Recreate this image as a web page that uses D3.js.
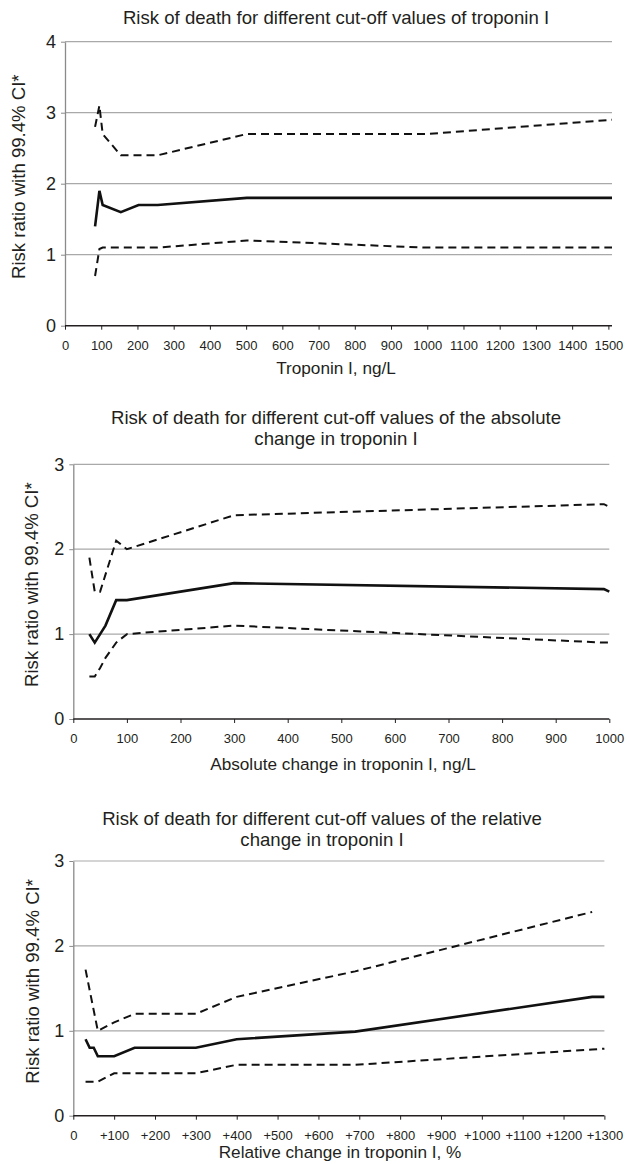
<!DOCTYPE html>
<html>
<head>
<meta charset="utf-8">
<script src="https://cdn.jsdelivr.net/npm/d3@7"></script>
<style>
    body { margin: 0; background: #fff; }
    text { font-family: "Liberation Sans", Arial, sans-serif; fill: #231f20; }
</style>
</head>
<body>
<div id="chart-area"></div>
<script>

// Panel 1: troponin I cut-off values
var tropX     = [83, 95, 104, 154, 203, 256, 502, 1000, 1510];
var tropRR    = [1.4, 1.9, 1.7, 1.6, 1.7, 1.7, 1.8, 1.8, 1.8];
var tropUpper = [2.8, 3.1, 2.7, 2.4, 2.4, 2.4, 2.7, 2.7, 2.9];
var tropLower = [0.7, 1.08, 1.1, 1.1, 1.1, 1.1, 1.2, 1.1, 1.1];
var tropTicksX = [0, 100, 200, 300, 400, 500, 600, 700, 800, 900, 1000, 1100, 1200, 1300, 1400, 1500];
var tropTicksY = [0, 1, 2, 3, 4];

// Panel 2: absolute change
var absX     = [30, 40, 50, 60, 80, 100, 300, 990, 1000];
var absRR    = [1.0, 0.9, 1.0, 1.1, 1.4, 1.4, 1.6, 1.53, 1.5];
var absUpper = [1.9, 1.5, 1.5, 1.7, 2.1, 2.0, 2.4, 2.53, 2.5];
var absLower = [0.5, 0.5, 0.6, 0.72, 0.9, 1.0, 1.1, 0.9, 0.9];
var absTicksX = [0, 100, 200, 300, 400, 500, 600, 700, 800, 900, 1000];
var absTicksY = [0, 1, 2, 3];

// Panel 3: relative change (%)
var relX     = [30, 40, 50, 60, 100, 150, 300, 400, 690, 1270, 1300];
var relRR    = [0.9, 0.8, 0.8, 0.7, 0.7, 0.8, 0.8, 0.9, 0.99, 1.4, 1.4];
var relUpper = [1.72, null, null, 1.0, 1.1, 1.2, 1.2, 1.4, 1.7, 2.4, null];
var relLower = [0.4, 0.4, 0.4, 0.4, 0.5, 0.5, 0.5, 0.6, 0.6, 0.78, 0.79];
var relTicksX = [0, 100, 200, 300, 400, 500, 600, 700, 800, 900, 1000, 1100, 1200, 1300];
var relTicksY = [0, 1, 2, 3];

var yLabel = "Risk ratio with 99.4% CI*";

var svg = d3.select("#chart-area").append("svg")
    .attr("width", 630)
    .attr("height", 1164);

svg.append("rect").attr("width", 630).attr("height", 1164).attr("fill", "#fff");

var panels = [
    {
        xs: tropX, rr: tropRR, upper: tropUpper, lower: tropLower,
        ticksX: tropTicksX, ticksY: tropTicksY, xMax: 1510, yMax: 4,
        left: 65, right: 612, top: 41.7, bottom: 325.7,
        title: ["Risk of death for different cut-off values of troponin I"],
        titleX: 336, titleY: 24,
        xLabel: "Troponin I, ng/L", xLabelX: 336, xLabelY: 374,
        yLabelX: 25,
        fmt: function (d) { return d; }
    },
    {
        xs: absX, rr: absRR, upper: absUpper, lower: absLower,
        ticksX: absTicksX, ticksY: absTicksY, xMax: 1000, yMax: 3,
        left: 73.3, right: 609.3, top: 464.3, bottom: 719,
        title: ["Risk of death for different cut-off values of the absolute", "change in troponin I"],
        titleX: 336, titleY: 424,
        xLabel: "Absolute change in troponin I, ng/L", xLabelX: 343, xLabelY: 770,
        yLabelX: 38,
        fmt: function (d) { return d; }
    },
    {
        xs: relX, rr: relRR, upper: relUpper, lower: relLower,
        ticksX: relTicksX, ticksY: relTicksY, xMax: 1300, yMax: 3,
        left: 73.3, right: 604.4, top: 861, bottom: 1115.7,
        title: ["Risk of death for different cut-off values of the relative", "change in troponin I"],
        titleX: 322, titleY: 825,
        xLabel: "Relative change in troponin I, %", xLabelX: 340, xLabelY: 1158,
        yLabelX: 39,
        fmt: function (d) { return d === 0 ? "0" : "+" + d; }
    }
];

panels.forEach(drawPanel);

function drawPanel(p) {
    var g = svg.append("g");

    var x = d3.scaleLinear().domain([0, p.xMax]).range([p.left, p.right]);
    var y = d3.scaleLinear().domain([0, p.yMax]).range([p.bottom, p.top]);

    // Gridlines
    g.selectAll(".grid")
        .data(p.ticksY.filter(function (d) { return d > 0; }))
        .enter().append("line")
        .attr("x1", p.left)
        .attr("x2", p.right)
        .attr("y1", function (d) { return y(d); })
        .attr("y2", function (d) { return y(d); })
        .attr("stroke", "#a9a9a9")
        .attr("stroke-width", 1.2);

    // Y axis
    var yAxis = g.append("g")
        .attr("transform", "translate(" + p.left + ",0)")
        .call(d3.axisLeft(y).tickValues(p.ticksY).tickSize(4).tickSizeOuter(0)
            .tickPadding(5).tickFormat(d3.format("d")));
    yAxis.select(".domain").attr("stroke", "#8a8a8a").attr("stroke-width", 1.3);
    yAxis.selectAll(".tick line").attr("stroke", "#8a8a8a");
    yAxis.selectAll(".tick text")
        .style("font-size", "18px")
        .attr("fill", "#231f20");

    // X axis
    var xAxis = g.append("g")
        .attr("transform", "translate(0," + p.bottom + ")")
        .call(d3.axisBottom(x).tickValues(p.ticksX).tickSize(4).tickSizeOuter(0)
            .tickPadding(11).tickFormat(p.fmt));
    xAxis.select(".domain").remove();
    xAxis.append("line")
        .attr("x1", p.left)
        .attr("x2", p.right)
        .attr("stroke", "#231f20")
        .attr("stroke-width", 1.5);
    xAxis.selectAll(".tick line").attr("stroke", "#231f20");
    xAxis.selectAll(".tick text")
        .style("font-size", "13px")
        .attr("fill", "#231f20");

    // Title
    var title = g.append("text")
        .attr("text-anchor", "middle")
        .style("font-size", "18.6px");
    p.title.forEach(function (t, i) {
        title.append("tspan")
            .attr("x", p.titleX)
            .attr("y", p.titleY + i * 21)
            .text(t);
    });

    // Axis labels
    g.append("text")
        .attr("x", p.xLabelX)
        .attr("y", p.xLabelY)
        .attr("text-anchor", "middle")
        .style("font-size", "17.2px")
        .text(p.xLabel);

    g.append("text")
        .attr("transform", "translate(" + p.yLabelX + "," + ((p.top + p.bottom) / 2 - 7) + ") rotate(-90)")
        .attr("text-anchor", "middle")
        .style("font-size", "18.6px")
        .text(yLabel);

    // Series
    var line = d3.line()
        .x(function (d) { return x(d[0]); })
        .y(function (d) { return y(d[1]); });

    function pts(vals) {
        return p.xs.map(function (v, i) { return [v, vals[i]]; })
            .filter(function (d) { return d[1] != null; });
    }

    g.append("path")
        .attr("d", line(pts(p.upper)))
        .attr("fill", "none")
        .attr("stroke", "#111")
        .attr("stroke-width", 2)
        .attr("stroke-dasharray", "8,5");

    g.append("path")
        .attr("d", line(pts(p.lower)))
        .attr("fill", "none")
        .attr("stroke", "#111")
        .attr("stroke-width", 2)
        .attr("stroke-dasharray", "8,5");

    g.append("path")
        .attr("d", line(pts(p.rr)))
        .attr("fill", "none")
        .attr("stroke", "#111")
        .attr("stroke-width", 2.6);
}
</script>
</body>
</html>
